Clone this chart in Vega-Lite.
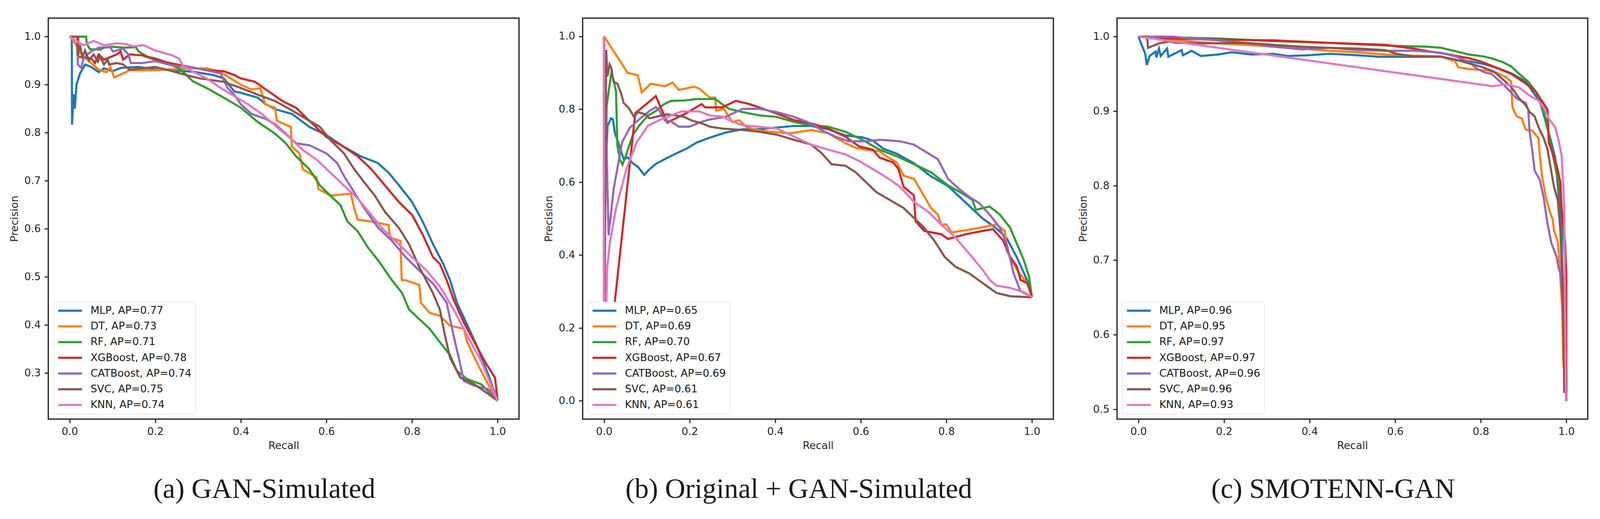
{
  "$schema": "https://vega.github.io/schema/vega-lite/v6.json",
  "padding": {"left": 22.6, "top": 44.3, "right": 35, "bottom": 38},
  "background": "white",
  "spacing": 60,
  "config": {
    "font": "DejaVu Sans",
    "view": {"stroke": "#262626", "strokeWidth": 3.25},
    "axis": {
      "labelFont": "DejaVu Sans", "labelFontSize": 26.6, "labelColor": "#262626",
      "titleFont": "DejaVu Sans", "titleFontSize": 26.6, "titleFontWeight": "normal", "titleColor": "#262626",
      "tickColor": "#262626", "tickWidth": 3, "tickSize": 9.8,
      "domain": false, "grid": false
    },
    "axisX": {"labelPadding": 9.8, "titlePadding": 8.9},
    "axisY": {"labelPadding": 9.8, "titlePadding": 9.8},
    "legend": {
      "orient": "bottom-left", "offset": 12.8, "title": null,
      "symbolType": "stroke", "symbolSize": 3721, "symbolStrokeWidth": 5.4, "clipHeight": 26.6,
      "labelFont": "DejaVu Sans", "labelFontSize": 26.6, "labelColor": "#1a1a1a", "labelOffset": 18.7, "labelLimit": 1000,
      "strokeColor": "#d6d6d6", "fillColor": "white", "cornerRadius": 6,
      "padding": 9.35, "rowPadding": 13.2
    },
    "title": {
      "orient": "bottom", "anchor": "middle", "frame": "bounds",
      "font": "Liberation Serif", "fontSize": 71.8, "fontWeight": "normal", "color": "#1a1a1a", "offset": 63
    },
    "line": {"strokeWidth": 5.4}
  },
  "datasets": {
    "a": [
      {"model": "MLP, AP=0.77", "recall": 0, "precision": 1.0},
      {"model": "MLP, AP=0.77", "recall": 0.005, "precision": 1.0},
      {"model": "MLP, AP=0.77", "recall": 0.0055, "precision": 0.817},
      {"model": "MLP, AP=0.77", "recall": 0.009, "precision": 0.88},
      {"model": "MLP, AP=0.77", "recall": 0.012, "precision": 0.85},
      {"model": "MLP, AP=0.77", "recall": 0.016, "precision": 0.9},
      {"model": "MLP, AP=0.77", "recall": 0.024, "precision": 0.923},
      {"model": "MLP, AP=0.77", "recall": 0.036, "precision": 0.942},
      {"model": "MLP, AP=0.77", "recall": 0.05, "precision": 0.937},
      {"model": "MLP, AP=0.77", "recall": 0.068, "precision": 0.926},
      {"model": "MLP, AP=0.77", "recall": 0.08, "precision": 0.934},
      {"model": "MLP, AP=0.77", "recall": 0.1, "precision": 0.928},
      {"model": "MLP, AP=0.77", "recall": 0.12, "precision": 0.935},
      {"model": "MLP, AP=0.77", "recall": 0.16, "precision": 0.937},
      {"model": "MLP, AP=0.77", "recall": 0.2, "precision": 0.932},
      {"model": "MLP, AP=0.77", "recall": 0.24, "precision": 0.93},
      {"model": "MLP, AP=0.77", "recall": 0.288, "precision": 0.927},
      {"model": "MLP, AP=0.77", "recall": 0.336, "precision": 0.92},
      {"model": "MLP, AP=0.77", "recall": 0.36, "precision": 0.913},
      {"model": "MLP, AP=0.77", "recall": 0.385, "precision": 0.886},
      {"model": "MLP, AP=0.77", "recall": 0.4, "precision": 0.883},
      {"model": "MLP, AP=0.77", "recall": 0.44, "precision": 0.873},
      {"model": "MLP, AP=0.77", "recall": 0.457, "precision": 0.86},
      {"model": "MLP, AP=0.77", "recall": 0.48, "precision": 0.849},
      {"model": "MLP, AP=0.77", "recall": 0.52, "precision": 0.839},
      {"model": "MLP, AP=0.77", "recall": 0.56, "precision": 0.812},
      {"model": "MLP, AP=0.77", "recall": 0.6, "precision": 0.795},
      {"model": "MLP, AP=0.77", "recall": 0.64, "precision": 0.771},
      {"model": "MLP, AP=0.77", "recall": 0.68, "precision": 0.751},
      {"model": "MLP, AP=0.77", "recall": 0.72, "precision": 0.737},
      {"model": "MLP, AP=0.77", "recall": 0.745, "precision": 0.717},
      {"model": "MLP, AP=0.77", "recall": 0.77, "precision": 0.69},
      {"model": "MLP, AP=0.77", "recall": 0.8, "precision": 0.656},
      {"model": "MLP, AP=0.77", "recall": 0.825, "precision": 0.615},
      {"model": "MLP, AP=0.77", "recall": 0.849, "precision": 0.568},
      {"model": "MLP, AP=0.77", "recall": 0.873, "precision": 0.527},
      {"model": "MLP, AP=0.77", "recall": 0.889, "precision": 0.493},
      {"model": "MLP, AP=0.77", "recall": 0.905, "precision": 0.446},
      {"model": "MLP, AP=0.77", "recall": 0.93, "precision": 0.398},
      {"model": "MLP, AP=0.77", "recall": 0.954, "precision": 0.351},
      {"model": "MLP, AP=0.77", "recall": 0.978, "precision": 0.297},
      {"model": "MLP, AP=0.77", "recall": 1.0, "precision": 0.242},

      {"model": "DT, AP=0.73", "recall": 0, "precision": 1.0},
      {"model": "DT, AP=0.73", "recall": 0.012, "precision": 0.987},
      {"model": "DT, AP=0.73", "recall": 0.027, "precision": 0.963},
      {"model": "DT, AP=0.73", "recall": 0.05, "precision": 0.945},
      {"model": "DT, AP=0.73", "recall": 0.068, "precision": 0.931},
      {"model": "DT, AP=0.73", "recall": 0.086, "precision": 0.926},
      {"model": "DT, AP=0.73", "recall": 0.095, "precision": 0.937},
      {"model": "DT, AP=0.73", "recall": 0.104, "precision": 0.915},
      {"model": "DT, AP=0.73", "recall": 0.14, "precision": 0.93},
      {"model": "DT, AP=0.73", "recall": 0.2, "precision": 0.93},
      {"model": "DT, AP=0.73", "recall": 0.24, "precision": 0.932},
      {"model": "DT, AP=0.73", "recall": 0.28, "precision": 0.934},
      {"model": "DT, AP=0.73", "recall": 0.32, "precision": 0.934},
      {"model": "DT, AP=0.73", "recall": 0.352, "precision": 0.927},
      {"model": "DT, AP=0.73", "recall": 0.376, "precision": 0.913},
      {"model": "DT, AP=0.73", "recall": 0.4, "precision": 0.9},
      {"model": "DT, AP=0.73", "recall": 0.425, "precision": 0.89},
      {"model": "DT, AP=0.73", "recall": 0.445, "precision": 0.893},
      {"model": "DT, AP=0.73", "recall": 0.457, "precision": 0.859},
      {"model": "DT, AP=0.73", "recall": 0.48, "precision": 0.852},
      {"model": "DT, AP=0.73", "recall": 0.484, "precision": 0.825},
      {"model": "DT, AP=0.73", "recall": 0.517, "precision": 0.812},
      {"model": "DT, AP=0.73", "recall": 0.519, "precision": 0.771},
      {"model": "DT, AP=0.73", "recall": 0.537, "precision": 0.757},
      {"model": "DT, AP=0.73", "recall": 0.545, "precision": 0.724},
      {"model": "DT, AP=0.73", "recall": 0.577, "precision": 0.707},
      {"model": "DT, AP=0.73", "recall": 0.581, "precision": 0.683},
      {"model": "DT, AP=0.73", "recall": 0.609, "precision": 0.669},
      {"model": "DT, AP=0.73", "recall": 0.657, "precision": 0.673},
      {"model": "DT, AP=0.73", "recall": 0.665, "precision": 0.642},
      {"model": "DT, AP=0.73", "recall": 0.673, "precision": 0.619},
      {"model": "DT, AP=0.73", "recall": 0.705, "precision": 0.615},
      {"model": "DT, AP=0.73", "recall": 0.745, "precision": 0.608},
      {"model": "DT, AP=0.73", "recall": 0.749, "precision": 0.581},
      {"model": "DT, AP=0.73", "recall": 0.773, "precision": 0.575},
      {"model": "DT, AP=0.73", "recall": 0.776, "precision": 0.493},
      {"model": "DT, AP=0.73", "recall": 0.785, "precision": 0.493},
      {"model": "DT, AP=0.73", "recall": 0.817, "precision": 0.483},
      {"model": "DT, AP=0.73", "recall": 0.821, "precision": 0.446},
      {"model": "DT, AP=0.73", "recall": 0.841, "precision": 0.425},
      {"model": "DT, AP=0.73", "recall": 0.865, "precision": 0.419},
      {"model": "DT, AP=0.73", "recall": 0.889, "precision": 0.398},
      {"model": "DT, AP=0.73", "recall": 0.921, "precision": 0.392},
      {"model": "DT, AP=0.73", "recall": 0.929, "precision": 0.364},
      {"model": "DT, AP=0.73", "recall": 0.954, "precision": 0.317},
      {"model": "DT, AP=0.73", "recall": 0.978, "precision": 0.276},
      {"model": "DT, AP=0.73", "recall": 1.0, "precision": 0.242},

      {"model": "RF, AP=0.71", "recall": 0, "precision": 1.0},
      {"model": "RF, AP=0.71", "recall": 0.0385, "precision": 1.0},
      {"model": "RF, AP=0.71", "recall": 0.04, "precision": 0.985},
      {"model": "RF, AP=0.71", "recall": 0.047, "precision": 0.974},
      {"model": "RF, AP=0.71", "recall": 0.072, "precision": 0.973},
      {"model": "RF, AP=0.71", "recall": 0.08, "precision": 0.977},
      {"model": "RF, AP=0.71", "recall": 0.098, "precision": 0.979},
      {"model": "RF, AP=0.71", "recall": 0.128, "precision": 0.977},
      {"model": "RF, AP=0.71", "recall": 0.155, "precision": 0.978},
      {"model": "RF, AP=0.71", "recall": 0.161, "precision": 0.969},
      {"model": "RF, AP=0.71", "recall": 0.182, "precision": 0.958},
      {"model": "RF, AP=0.71", "recall": 0.2, "precision": 0.955},
      {"model": "RF, AP=0.71", "recall": 0.216, "precision": 0.95},
      {"model": "RF, AP=0.71", "recall": 0.256, "precision": 0.934},
      {"model": "RF, AP=0.71", "recall": 0.288, "precision": 0.907},
      {"model": "RF, AP=0.71", "recall": 0.32, "precision": 0.893},
      {"model": "RF, AP=0.71", "recall": 0.36, "precision": 0.873},
      {"model": "RF, AP=0.71", "recall": 0.4, "precision": 0.852},
      {"model": "RF, AP=0.71", "recall": 0.44, "precision": 0.822},
      {"model": "RF, AP=0.71", "recall": 0.48, "precision": 0.798},
      {"model": "RF, AP=0.71", "recall": 0.505, "precision": 0.778},
      {"model": "RF, AP=0.71", "recall": 0.529, "precision": 0.751},
      {"model": "RF, AP=0.71", "recall": 0.56, "precision": 0.724},
      {"model": "RF, AP=0.71", "recall": 0.585, "precision": 0.69},
      {"model": "RF, AP=0.71", "recall": 0.609, "precision": 0.669},
      {"model": "RF, AP=0.71", "recall": 0.633, "precision": 0.649},
      {"model": "RF, AP=0.71", "recall": 0.649, "precision": 0.615},
      {"model": "RF, AP=0.71", "recall": 0.673, "precision": 0.595},
      {"model": "RF, AP=0.71", "recall": 0.697, "precision": 0.561},
      {"model": "RF, AP=0.71", "recall": 0.721, "precision": 0.534},
      {"model": "RF, AP=0.71", "recall": 0.753, "precision": 0.493},
      {"model": "RF, AP=0.71", "recall": 0.777, "precision": 0.466},
      {"model": "RF, AP=0.71", "recall": 0.793, "precision": 0.432},
      {"model": "RF, AP=0.71", "recall": 0.817, "precision": 0.412},
      {"model": "RF, AP=0.71", "recall": 0.841, "precision": 0.392},
      {"model": "RF, AP=0.71", "recall": 0.865, "precision": 0.364},
      {"model": "RF, AP=0.71", "recall": 0.889, "precision": 0.337},
      {"model": "RF, AP=0.71", "recall": 0.905, "precision": 0.304},
      {"model": "RF, AP=0.71", "recall": 0.929, "precision": 0.287},
      {"model": "RF, AP=0.71", "recall": 0.962, "precision": 0.276},
      {"model": "RF, AP=0.71", "recall": 1.0, "precision": 0.242},

      {"model": "XGBoost, AP=0.78", "recall": 0, "precision": 1.0},
      {"model": "XGBoost, AP=0.78", "recall": 0.02, "precision": 1.0},
      {"model": "XGBoost, AP=0.78", "recall": 0.02, "precision": 0.958},
      {"model": "XGBoost, AP=0.78", "recall": 0.05, "precision": 0.955},
      {"model": "XGBoost, AP=0.78", "recall": 0.059, "precision": 0.945},
      {"model": "XGBoost, AP=0.78", "recall": 0.068, "precision": 0.963},
      {"model": "XGBoost, AP=0.78", "recall": 0.08, "precision": 0.952},
      {"model": "XGBoost, AP=0.78", "recall": 0.11, "precision": 0.963},
      {"model": "XGBoost, AP=0.78", "recall": 0.119, "precision": 0.969},
      {"model": "XGBoost, AP=0.78", "recall": 0.125, "precision": 0.952},
      {"model": "XGBoost, AP=0.78", "recall": 0.14, "precision": 0.963},
      {"model": "XGBoost, AP=0.78", "recall": 0.17, "precision": 0.961},
      {"model": "XGBoost, AP=0.78", "recall": 0.2, "precision": 0.952},
      {"model": "XGBoost, AP=0.78", "recall": 0.24, "precision": 0.944},
      {"model": "XGBoost, AP=0.78", "recall": 0.28, "precision": 0.937},
      {"model": "XGBoost, AP=0.78", "recall": 0.32, "precision": 0.93},
      {"model": "XGBoost, AP=0.78", "recall": 0.36, "precision": 0.928},
      {"model": "XGBoost, AP=0.78", "recall": 0.385, "precision": 0.92},
      {"model": "XGBoost, AP=0.78", "recall": 0.4, "precision": 0.913},
      {"model": "XGBoost, AP=0.78", "recall": 0.433, "precision": 0.906},
      {"model": "XGBoost, AP=0.78", "recall": 0.465, "precision": 0.886},
      {"model": "XGBoost, AP=0.78", "recall": 0.497, "precision": 0.866},
      {"model": "XGBoost, AP=0.78", "recall": 0.529, "precision": 0.852},
      {"model": "XGBoost, AP=0.78", "recall": 0.56, "precision": 0.825},
      {"model": "XGBoost, AP=0.78", "recall": 0.6, "precision": 0.791},
      {"model": "XGBoost, AP=0.78", "recall": 0.64, "precision": 0.771},
      {"model": "XGBoost, AP=0.78", "recall": 0.673, "precision": 0.751},
      {"model": "XGBoost, AP=0.78", "recall": 0.705, "precision": 0.724},
      {"model": "XGBoost, AP=0.78", "recall": 0.737, "precision": 0.69},
      {"model": "XGBoost, AP=0.78", "recall": 0.769, "precision": 0.656},
      {"model": "XGBoost, AP=0.78", "recall": 0.8, "precision": 0.629},
      {"model": "XGBoost, AP=0.78", "recall": 0.825, "precision": 0.588},
      {"model": "XGBoost, AP=0.78", "recall": 0.849, "precision": 0.541},
      {"model": "XGBoost, AP=0.78", "recall": 0.865, "precision": 0.527},
      {"model": "XGBoost, AP=0.78", "recall": 0.881, "precision": 0.493},
      {"model": "XGBoost, AP=0.78", "recall": 0.897, "precision": 0.453},
      {"model": "XGBoost, AP=0.78", "recall": 0.921, "precision": 0.405},
      {"model": "XGBoost, AP=0.78", "recall": 0.946, "precision": 0.364},
      {"model": "XGBoost, AP=0.78", "recall": 0.97, "precision": 0.324},
      {"model": "XGBoost, AP=0.78", "recall": 0.994, "precision": 0.29},
      {"model": "XGBoost, AP=0.78", "recall": 1.0, "precision": 0.243},

      {"model": "CATBoost, AP=0.74", "recall": 0, "precision": 1.0},
      {"model": "CATBoost, AP=0.74", "recall": 0.018, "precision": 1.0},
      {"model": "CATBoost, AP=0.74", "recall": 0.019, "precision": 0.942},
      {"model": "CATBoost, AP=0.74", "recall": 0.027, "precision": 0.935},
      {"model": "CATBoost, AP=0.74", "recall": 0.032, "precision": 0.953},
      {"model": "CATBoost, AP=0.74", "recall": 0.039, "precision": 0.961},
      {"model": "CATBoost, AP=0.74", "recall": 0.05, "precision": 0.969},
      {"model": "CATBoost, AP=0.74", "recall": 0.068, "precision": 0.977},
      {"model": "CATBoost, AP=0.74", "recall": 0.095, "precision": 0.978},
      {"model": "CATBoost, AP=0.74", "recall": 0.101, "precision": 0.969},
      {"model": "CATBoost, AP=0.74", "recall": 0.125, "precision": 0.975},
      {"model": "CATBoost, AP=0.74", "recall": 0.137, "precision": 0.963},
      {"model": "CATBoost, AP=0.74", "recall": 0.143, "precision": 0.945},
      {"model": "CATBoost, AP=0.74", "recall": 0.17, "precision": 0.945},
      {"model": "CATBoost, AP=0.74", "recall": 0.2, "precision": 0.949},
      {"model": "CATBoost, AP=0.74", "recall": 0.24, "precision": 0.94},
      {"model": "CATBoost, AP=0.74", "recall": 0.28, "precision": 0.937},
      {"model": "CATBoost, AP=0.74", "recall": 0.32, "precision": 0.93},
      {"model": "CATBoost, AP=0.74", "recall": 0.353, "precision": 0.923},
      {"model": "CATBoost, AP=0.74", "recall": 0.369, "precision": 0.893},
      {"model": "CATBoost, AP=0.74", "recall": 0.385, "precision": 0.879},
      {"model": "CATBoost, AP=0.74", "recall": 0.4, "precision": 0.859},
      {"model": "CATBoost, AP=0.74", "recall": 0.425, "precision": 0.839},
      {"model": "CATBoost, AP=0.74", "recall": 0.457, "precision": 0.829},
      {"model": "CATBoost, AP=0.74", "recall": 0.48, "precision": 0.818},
      {"model": "CATBoost, AP=0.74", "recall": 0.505, "precision": 0.798},
      {"model": "CATBoost, AP=0.74", "recall": 0.529, "precision": 0.778},
      {"model": "CATBoost, AP=0.74", "recall": 0.56, "precision": 0.774},
      {"model": "CATBoost, AP=0.74", "recall": 0.6, "precision": 0.757},
      {"model": "CATBoost, AP=0.74", "recall": 0.625, "precision": 0.737},
      {"model": "CATBoost, AP=0.74", "recall": 0.641, "precision": 0.71},
      {"model": "CATBoost, AP=0.74", "recall": 0.665, "precision": 0.676},
      {"model": "CATBoost, AP=0.74", "recall": 0.689, "precision": 0.642},
      {"model": "CATBoost, AP=0.74", "recall": 0.721, "precision": 0.602},
      {"model": "CATBoost, AP=0.74", "recall": 0.753, "precision": 0.575},
      {"model": "CATBoost, AP=0.74", "recall": 0.785, "precision": 0.541},
      {"model": "CATBoost, AP=0.74", "recall": 0.817, "precision": 0.513},
      {"model": "CATBoost, AP=0.74", "recall": 0.849, "precision": 0.486},
      {"model": "CATBoost, AP=0.74", "recall": 0.881, "precision": 0.446},
      {"model": "CATBoost, AP=0.74", "recall": 0.897, "precision": 0.378},
      {"model": "CATBoost, AP=0.74", "recall": 0.913, "precision": 0.317},
      {"model": "CATBoost, AP=0.74", "recall": 0.921, "precision": 0.283},
      {"model": "CATBoost, AP=0.74", "recall": 0.946, "precision": 0.273},
      {"model": "CATBoost, AP=0.74", "recall": 0.978, "precision": 0.266},
      {"model": "CATBoost, AP=0.74", "recall": 1.0, "precision": 0.242},

      {"model": "SVC, AP=0.75", "recall": 0, "precision": 1.0},
      {"model": "SVC, AP=0.75", "recall": 0.018, "precision": 1.0},
      {"model": "SVC, AP=0.75", "recall": 0.018, "precision": 0.961},
      {"model": "SVC, AP=0.75", "recall": 0.024, "precision": 0.982},
      {"model": "SVC, AP=0.75", "recall": 0.03, "precision": 0.958},
      {"model": "SVC, AP=0.75", "recall": 0.036, "precision": 0.971},
      {"model": "SVC, AP=0.75", "recall": 0.045, "precision": 0.95},
      {"model": "SVC, AP=0.75", "recall": 0.056, "precision": 0.963},
      {"model": "SVC, AP=0.75", "recall": 0.066, "precision": 0.948},
      {"model": "SVC, AP=0.75", "recall": 0.071, "precision": 0.958},
      {"model": "SVC, AP=0.75", "recall": 0.08, "precision": 0.942},
      {"model": "SVC, AP=0.75", "recall": 0.089, "precision": 0.952},
      {"model": "SVC, AP=0.75", "recall": 0.092, "precision": 0.942},
      {"model": "SVC, AP=0.75", "recall": 0.11, "precision": 0.945},
      {"model": "SVC, AP=0.75", "recall": 0.125, "precision": 0.942},
      {"model": "SVC, AP=0.75", "recall": 0.14, "precision": 0.931},
      {"model": "SVC, AP=0.75", "recall": 0.17, "precision": 0.934},
      {"model": "SVC, AP=0.75", "recall": 0.2, "precision": 0.937},
      {"model": "SVC, AP=0.75", "recall": 0.24, "precision": 0.928},
      {"model": "SVC, AP=0.75", "recall": 0.272, "precision": 0.92},
      {"model": "SVC, AP=0.75", "recall": 0.304, "precision": 0.913},
      {"model": "SVC, AP=0.75", "recall": 0.36, "precision": 0.906},
      {"model": "SVC, AP=0.75", "recall": 0.4, "precision": 0.893},
      {"model": "SVC, AP=0.75", "recall": 0.44, "precision": 0.879},
      {"model": "SVC, AP=0.75", "recall": 0.48, "precision": 0.866},
      {"model": "SVC, AP=0.75", "recall": 0.52, "precision": 0.846},
      {"model": "SVC, AP=0.75", "recall": 0.56, "precision": 0.825},
      {"model": "SVC, AP=0.75", "recall": 0.585, "precision": 0.812},
      {"model": "SVC, AP=0.75", "recall": 0.609, "precision": 0.785},
      {"model": "SVC, AP=0.75", "recall": 0.641, "precision": 0.757},
      {"model": "SVC, AP=0.75", "recall": 0.665, "precision": 0.724},
      {"model": "SVC, AP=0.75", "recall": 0.689, "precision": 0.696},
      {"model": "SVC, AP=0.75", "recall": 0.713, "precision": 0.669},
      {"model": "SVC, AP=0.75", "recall": 0.737, "precision": 0.635},
      {"model": "SVC, AP=0.75", "recall": 0.769, "precision": 0.602},
      {"model": "SVC, AP=0.75", "recall": 0.793, "precision": 0.568},
      {"model": "SVC, AP=0.75", "recall": 0.817, "precision": 0.52},
      {"model": "SVC, AP=0.75", "recall": 0.849, "precision": 0.466},
      {"model": "SVC, AP=0.75", "recall": 0.865, "precision": 0.432},
      {"model": "SVC, AP=0.75", "recall": 0.877, "precision": 0.378},
      {"model": "SVC, AP=0.75", "recall": 0.889, "precision": 0.331},
      {"model": "SVC, AP=0.75", "recall": 0.913, "precision": 0.29},
      {"model": "SVC, AP=0.75", "recall": 0.946, "precision": 0.276},
      {"model": "SVC, AP=0.75", "recall": 0.978, "precision": 0.256},
      {"model": "SVC, AP=0.75", "recall": 1.0, "precision": 0.242},

      {"model": "KNN, AP=0.74", "recall": 0, "precision": 1.0},
      {"model": "KNN, AP=0.74", "recall": 0.032, "precision": 0.982},
      {"model": "KNN, AP=0.74", "recall": 0.056, "precision": 0.991},
      {"model": "KNN, AP=0.74", "recall": 0.08, "precision": 0.982},
      {"model": "KNN, AP=0.74", "recall": 0.11, "precision": 0.986},
      {"model": "KNN, AP=0.74", "recall": 0.128, "precision": 0.985},
      {"model": "KNN, AP=0.74", "recall": 0.149, "precision": 0.98},
      {"model": "KNN, AP=0.74", "recall": 0.173, "precision": 0.982},
      {"model": "KNN, AP=0.74", "recall": 0.2, "precision": 0.971},
      {"model": "KNN, AP=0.74", "recall": 0.24, "precision": 0.961},
      {"model": "KNN, AP=0.74", "recall": 0.256, "precision": 0.954},
      {"model": "KNN, AP=0.74", "recall": 0.264, "precision": 0.94},
      {"model": "KNN, AP=0.74", "recall": 0.288, "precision": 0.927},
      {"model": "KNN, AP=0.74", "recall": 0.32, "precision": 0.913},
      {"model": "KNN, AP=0.74", "recall": 0.353, "precision": 0.893},
      {"model": "KNN, AP=0.74", "recall": 0.385, "precision": 0.876},
      {"model": "KNN, AP=0.74", "recall": 0.417, "precision": 0.859},
      {"model": "KNN, AP=0.74", "recall": 0.449, "precision": 0.839},
      {"model": "KNN, AP=0.74", "recall": 0.48, "precision": 0.815},
      {"model": "KNN, AP=0.74", "recall": 0.52, "precision": 0.785},
      {"model": "KNN, AP=0.74", "recall": 0.545, "precision": 0.764},
      {"model": "KNN, AP=0.74", "recall": 0.577, "precision": 0.744},
      {"model": "KNN, AP=0.74", "recall": 0.609, "precision": 0.717},
      {"model": "KNN, AP=0.74", "recall": 0.641, "precision": 0.69},
      {"model": "KNN, AP=0.74", "recall": 0.673, "precision": 0.663},
      {"model": "KNN, AP=0.74", "recall": 0.705, "precision": 0.629},
      {"model": "KNN, AP=0.74", "recall": 0.729, "precision": 0.602},
      {"model": "KNN, AP=0.74", "recall": 0.769, "precision": 0.568},
      {"model": "KNN, AP=0.74", "recall": 0.8, "precision": 0.541},
      {"model": "KNN, AP=0.74", "recall": 0.833, "precision": 0.514},
      {"model": "KNN, AP=0.74", "recall": 0.865, "precision": 0.48},
      {"model": "KNN, AP=0.74", "recall": 0.897, "precision": 0.432},
      {"model": "KNN, AP=0.74", "recall": 0.929, "precision": 0.378},
      {"model": "KNN, AP=0.74", "recall": 0.962, "precision": 0.324},
      {"model": "KNN, AP=0.74", "recall": 1.0, "precision": 0.242}
    ],
    "b": [
      {"model": "MLP, AP=0.65", "recall": 0, "precision": 1.0},
      {"model": "MLP, AP=0.65", "recall": 0.004, "precision": 0.63},
      {"model": "MLP, AP=0.65", "recall": 0.008, "precision": 0.755},
      {"model": "MLP, AP=0.65", "recall": 0.0165, "precision": 0.775},
      {"model": "MLP, AP=0.65", "recall": 0.021, "precision": 0.772},
      {"model": "MLP, AP=0.65", "recall": 0.025, "precision": 0.736},
      {"model": "MLP, AP=0.65", "recall": 0.037, "precision": 0.696},
      {"model": "MLP, AP=0.65", "recall": 0.046, "precision": 0.662},
      {"model": "MLP, AP=0.65", "recall": 0.055, "precision": 0.668},
      {"model": "MLP, AP=0.65", "recall": 0.067, "precision": 0.652},
      {"model": "MLP, AP=0.65", "recall": 0.079, "precision": 0.642},
      {"model": "MLP, AP=0.65", "recall": 0.094, "precision": 0.62},
      {"model": "MLP, AP=0.65", "recall": 0.106, "precision": 0.635},
      {"model": "MLP, AP=0.65", "recall": 0.121, "precision": 0.65},
      {"model": "MLP, AP=0.65", "recall": 0.145, "precision": 0.665},
      {"model": "MLP, AP=0.65", "recall": 0.169, "precision": 0.679},
      {"model": "MLP, AP=0.65", "recall": 0.193, "precision": 0.692},
      {"model": "MLP, AP=0.65", "recall": 0.217, "precision": 0.709},
      {"model": "MLP, AP=0.65", "recall": 0.247, "precision": 0.722},
      {"model": "MLP, AP=0.65", "recall": 0.284, "precision": 0.736},
      {"model": "MLP, AP=0.65", "recall": 0.324, "precision": 0.745},
      {"model": "MLP, AP=0.65", "recall": 0.364, "precision": 0.745},
      {"model": "MLP, AP=0.65", "recall": 0.404, "precision": 0.75},
      {"model": "MLP, AP=0.65", "recall": 0.444, "precision": 0.754},
      {"model": "MLP, AP=0.65", "recall": 0.484, "precision": 0.754},
      {"model": "MLP, AP=0.65", "recall": 0.524, "precision": 0.745},
      {"model": "MLP, AP=0.65", "recall": 0.564, "precision": 0.728},
      {"model": "MLP, AP=0.65", "recall": 0.604, "precision": 0.723},
      {"model": "MLP, AP=0.65", "recall": 0.628, "precision": 0.714},
      {"model": "MLP, AP=0.65", "recall": 0.652, "precision": 0.692},
      {"model": "MLP, AP=0.65", "recall": 0.684, "precision": 0.678},
      {"model": "MLP, AP=0.65", "recall": 0.724, "precision": 0.652},
      {"model": "MLP, AP=0.65", "recall": 0.764, "precision": 0.616},
      {"model": "MLP, AP=0.65", "recall": 0.804, "precision": 0.589},
      {"model": "MLP, AP=0.65", "recall": 0.845, "precision": 0.544},
      {"model": "MLP, AP=0.65", "recall": 0.885, "precision": 0.5},
      {"model": "MLP, AP=0.65", "recall": 0.917, "precision": 0.473},
      {"model": "MLP, AP=0.65", "recall": 0.941, "precision": 0.446},
      {"model": "MLP, AP=0.65", "recall": 0.965, "precision": 0.393},
      {"model": "MLP, AP=0.65", "recall": 0.989, "precision": 0.33},
      {"model": "MLP, AP=0.65", "recall": 1.0, "precision": 0.285},

      {"model": "DT, AP=0.69", "recall": 0, "precision": 1.0},
      {"model": "DT, AP=0.69", "recall": 0.055, "precision": 0.9},
      {"model": "DT, AP=0.69", "recall": 0.079, "precision": 0.893},
      {"model": "DT, AP=0.69", "recall": 0.088, "precision": 0.846},
      {"model": "DT, AP=0.69", "recall": 0.109, "precision": 0.87},
      {"model": "DT, AP=0.69", "recall": 0.142, "precision": 0.863},
      {"model": "DT, AP=0.69", "recall": 0.16, "precision": 0.873},
      {"model": "DT, AP=0.69", "recall": 0.175, "precision": 0.853},
      {"model": "DT, AP=0.69", "recall": 0.211, "precision": 0.862},
      {"model": "DT, AP=0.69", "recall": 0.223, "precision": 0.856},
      {"model": "DT, AP=0.69", "recall": 0.247, "precision": 0.832},
      {"model": "DT, AP=0.69", "recall": 0.26, "precision": 0.832},
      {"model": "DT, AP=0.69", "recall": 0.262, "precision": 0.796},
      {"model": "DT, AP=0.69", "recall": 0.28, "precision": 0.801},
      {"model": "DT, AP=0.69", "recall": 0.3, "precision": 0.765},
      {"model": "DT, AP=0.69", "recall": 0.316, "precision": 0.77},
      {"model": "DT, AP=0.69", "recall": 0.332, "precision": 0.752},
      {"model": "DT, AP=0.69", "recall": 0.356, "precision": 0.743},
      {"model": "DT, AP=0.69", "recall": 0.388, "precision": 0.738},
      {"model": "DT, AP=0.69", "recall": 0.436, "precision": 0.734},
      {"model": "DT, AP=0.69", "recall": 0.484, "precision": 0.743},
      {"model": "DT, AP=0.69", "recall": 0.524, "precision": 0.734},
      {"model": "DT, AP=0.69", "recall": 0.564, "precision": 0.707},
      {"model": "DT, AP=0.69", "recall": 0.588, "precision": 0.694},
      {"model": "DT, AP=0.69", "recall": 0.612, "precision": 0.689},
      {"model": "DT, AP=0.69", "recall": 0.644, "precision": 0.685},
      {"model": "DT, AP=0.69", "recall": 0.66, "precision": 0.671},
      {"model": "DT, AP=0.69", "recall": 0.684, "precision": 0.654},
      {"model": "DT, AP=0.69", "recall": 0.7, "precision": 0.618},
      {"model": "DT, AP=0.69", "recall": 0.724, "precision": 0.609},
      {"model": "DT, AP=0.69", "recall": 0.74, "precision": 0.578},
      {"model": "DT, AP=0.69", "recall": 0.764, "precision": 0.529},
      {"model": "DT, AP=0.69", "recall": 0.78, "precision": 0.511},
      {"model": "DT, AP=0.69", "recall": 0.788, "precision": 0.484},
      {"model": "DT, AP=0.69", "recall": 0.8, "precision": 0.484},
      {"model": "DT, AP=0.69", "recall": 0.812, "precision": 0.462},
      {"model": "DT, AP=0.69", "recall": 0.861, "precision": 0.471},
      {"model": "DT, AP=0.69", "recall": 0.917, "precision": 0.484},
      {"model": "DT, AP=0.69", "recall": 0.937, "precision": 0.466},
      {"model": "DT, AP=0.69", "recall": 0.941, "precision": 0.413},
      {"model": "DT, AP=0.69", "recall": 0.965, "precision": 0.359},
      {"model": "DT, AP=0.69", "recall": 0.989, "precision": 0.323},
      {"model": "DT, AP=0.69", "recall": 1.0, "precision": 0.285},

      {"model": "RF, AP=0.70", "recall": 0, "precision": 1.0},
      {"model": "RF, AP=0.70", "recall": 0.004, "precision": 0.615},
      {"model": "RF, AP=0.70", "recall": 0.006, "precision": 0.809},
      {"model": "RF, AP=0.70", "recall": 0.0165, "precision": 0.896},
      {"model": "RF, AP=0.70", "recall": 0.022, "precision": 0.882},
      {"model": "RF, AP=0.70", "recall": 0.028, "precision": 0.849},
      {"model": "RF, AP=0.70", "recall": 0.031, "precision": 0.702},
      {"model": "RF, AP=0.70", "recall": 0.037, "precision": 0.662},
      {"model": "RF, AP=0.70", "recall": 0.043, "precision": 0.648},
      {"model": "RF, AP=0.70", "recall": 0.052, "precision": 0.676},
      {"model": "RF, AP=0.70", "recall": 0.067, "precision": 0.729},
      {"model": "RF, AP=0.70", "recall": 0.082, "precision": 0.755},
      {"model": "RF, AP=0.70", "recall": 0.103, "precision": 0.783},
      {"model": "RF, AP=0.70", "recall": 0.121, "precision": 0.795},
      {"model": "RF, AP=0.70", "recall": 0.139, "precision": 0.813},
      {"model": "RF, AP=0.70", "recall": 0.157, "precision": 0.823},
      {"model": "RF, AP=0.70", "recall": 0.187, "precision": 0.824},
      {"model": "RF, AP=0.70", "recall": 0.217, "precision": 0.828},
      {"model": "RF, AP=0.70", "recall": 0.26, "precision": 0.828},
      {"model": "RF, AP=0.70", "recall": 0.276, "precision": 0.814},
      {"model": "RF, AP=0.70", "recall": 0.292, "precision": 0.801},
      {"model": "RF, AP=0.70", "recall": 0.324, "precision": 0.792},
      {"model": "RF, AP=0.70", "recall": 0.364, "precision": 0.783},
      {"model": "RF, AP=0.70", "recall": 0.404, "precision": 0.779},
      {"model": "RF, AP=0.70", "recall": 0.444, "precision": 0.765},
      {"model": "RF, AP=0.70", "recall": 0.484, "precision": 0.756},
      {"model": "RF, AP=0.70", "recall": 0.524, "precision": 0.752},
      {"model": "RF, AP=0.70", "recall": 0.564, "precision": 0.738},
      {"model": "RF, AP=0.70", "recall": 0.604, "precision": 0.716},
      {"model": "RF, AP=0.70", "recall": 0.644, "precision": 0.689},
      {"model": "RF, AP=0.70", "recall": 0.684, "precision": 0.671},
      {"model": "RF, AP=0.70", "recall": 0.708, "precision": 0.658},
      {"model": "RF, AP=0.70", "recall": 0.732, "precision": 0.645},
      {"model": "RF, AP=0.70", "recall": 0.764, "precision": 0.627},
      {"model": "RF, AP=0.70", "recall": 0.804, "precision": 0.591},
      {"model": "RF, AP=0.70", "recall": 0.837, "precision": 0.569},
      {"model": "RF, AP=0.70", "recall": 0.861, "precision": 0.551},
      {"model": "RF, AP=0.70", "recall": 0.869, "precision": 0.524},
      {"model": "RF, AP=0.70", "recall": 0.901, "precision": 0.533},
      {"model": "RF, AP=0.70", "recall": 0.925, "precision": 0.511},
      {"model": "RF, AP=0.70", "recall": 0.949, "precision": 0.475},
      {"model": "RF, AP=0.70", "recall": 0.965, "precision": 0.43},
      {"model": "RF, AP=0.70", "recall": 0.981, "precision": 0.386},
      {"model": "RF, AP=0.70", "recall": 0.993, "precision": 0.341},
      {"model": "RF, AP=0.70", "recall": 1.0, "precision": 0.285},

      {"model": "XGBoost, AP=0.67", "recall": 0, "precision": 1.0},
      {"model": "XGBoost, AP=0.67", "recall": 0, "precision": 0.0},
      {"model": "XGBoost, AP=0.67", "recall": 0.073, "precision": 0.789},
      {"model": "XGBoost, AP=0.67", "recall": 0.121, "precision": 0.836},
      {"model": "XGBoost, AP=0.67", "recall": 0.148, "precision": 0.763},
      {"model": "XGBoost, AP=0.67", "recall": 0.157, "precision": 0.769},
      {"model": "XGBoost, AP=0.67", "recall": 0.187, "precision": 0.786},
      {"model": "XGBoost, AP=0.67", "recall": 0.228, "precision": 0.814},
      {"model": "XGBoost, AP=0.67", "recall": 0.236, "precision": 0.805},
      {"model": "XGBoost, AP=0.67", "recall": 0.276, "precision": 0.805},
      {"model": "XGBoost, AP=0.67", "recall": 0.308, "precision": 0.823},
      {"model": "XGBoost, AP=0.67", "recall": 0.34, "precision": 0.814},
      {"model": "XGBoost, AP=0.67", "recall": 0.372, "precision": 0.801},
      {"model": "XGBoost, AP=0.67", "recall": 0.404, "precision": 0.788},
      {"model": "XGBoost, AP=0.67", "recall": 0.444, "precision": 0.77},
      {"model": "XGBoost, AP=0.67", "recall": 0.484, "precision": 0.761},
      {"model": "XGBoost, AP=0.67", "recall": 0.524, "precision": 0.747},
      {"model": "XGBoost, AP=0.67", "recall": 0.564, "precision": 0.725},
      {"model": "XGBoost, AP=0.67", "recall": 0.596, "precision": 0.698},
      {"model": "XGBoost, AP=0.67", "recall": 0.628, "precision": 0.689},
      {"model": "XGBoost, AP=0.67", "recall": 0.644, "precision": 0.667},
      {"model": "XGBoost, AP=0.67", "recall": 0.676, "precision": 0.654},
      {"model": "XGBoost, AP=0.67", "recall": 0.688, "precision": 0.636},
      {"model": "XGBoost, AP=0.67", "recall": 0.7, "precision": 0.587},
      {"model": "XGBoost, AP=0.67", "recall": 0.724, "precision": 0.564},
      {"model": "XGBoost, AP=0.67", "recall": 0.728, "precision": 0.493},
      {"model": "XGBoost, AP=0.67", "recall": 0.748, "precision": 0.466},
      {"model": "XGBoost, AP=0.67", "recall": 0.788, "precision": 0.457},
      {"model": "XGBoost, AP=0.67", "recall": 0.804, "precision": 0.444},
      {"model": "XGBoost, AP=0.67", "recall": 0.845, "precision": 0.457},
      {"model": "XGBoost, AP=0.67", "recall": 0.885, "precision": 0.466},
      {"model": "XGBoost, AP=0.67", "recall": 0.909, "precision": 0.471},
      {"model": "XGBoost, AP=0.67", "recall": 0.933, "precision": 0.439},
      {"model": "XGBoost, AP=0.67", "recall": 0.949, "precision": 0.395},
      {"model": "XGBoost, AP=0.67", "recall": 0.965, "precision": 0.368},
      {"model": "XGBoost, AP=0.67", "recall": 0.973, "precision": 0.332},
      {"model": "XGBoost, AP=0.67", "recall": 0.989, "precision": 0.323},
      {"model": "XGBoost, AP=0.67", "recall": 1.0, "precision": 0.285},

      {"model": "CATBoost, AP=0.69", "recall": 0, "precision": 1.0},
      {"model": "CATBoost, AP=0.69", "recall": 0.0105, "precision": 0.454},
      {"model": "CATBoost, AP=0.69", "recall": 0.0225, "precision": 0.581},
      {"model": "CATBoost, AP=0.69", "recall": 0.042, "precision": 0.709},
      {"model": "CATBoost, AP=0.69", "recall": 0.06, "precision": 0.749},
      {"model": "CATBoost, AP=0.69", "recall": 0.085, "precision": 0.775},
      {"model": "CATBoost, AP=0.69", "recall": 0.106, "precision": 0.795},
      {"model": "CATBoost, AP=0.69", "recall": 0.121, "precision": 0.806},
      {"model": "CATBoost, AP=0.69", "recall": 0.13, "precision": 0.795},
      {"model": "CATBoost, AP=0.69", "recall": 0.142, "precision": 0.769},
      {"model": "CATBoost, AP=0.69", "recall": 0.157, "precision": 0.766},
      {"model": "CATBoost, AP=0.69", "recall": 0.175, "precision": 0.752},
      {"model": "CATBoost, AP=0.69", "recall": 0.199, "precision": 0.752},
      {"model": "CATBoost, AP=0.69", "recall": 0.229, "precision": 0.766},
      {"model": "CATBoost, AP=0.69", "recall": 0.247, "precision": 0.772},
      {"model": "CATBoost, AP=0.69", "recall": 0.284, "precision": 0.779},
      {"model": "CATBoost, AP=0.69", "recall": 0.324, "precision": 0.801},
      {"model": "CATBoost, AP=0.69", "recall": 0.364, "precision": 0.801},
      {"model": "CATBoost, AP=0.69", "recall": 0.404, "precision": 0.792},
      {"model": "CATBoost, AP=0.69", "recall": 0.444, "precision": 0.779},
      {"model": "CATBoost, AP=0.69", "recall": 0.476, "precision": 0.765},
      {"model": "CATBoost, AP=0.69", "recall": 0.508, "precision": 0.743},
      {"model": "CATBoost, AP=0.69", "recall": 0.54, "precision": 0.725},
      {"model": "CATBoost, AP=0.69", "recall": 0.572, "precision": 0.712},
      {"model": "CATBoost, AP=0.69", "recall": 0.612, "precision": 0.712},
      {"model": "CATBoost, AP=0.69", "recall": 0.644, "precision": 0.716},
      {"model": "CATBoost, AP=0.69", "recall": 0.692, "precision": 0.712},
      {"model": "CATBoost, AP=0.69", "recall": 0.724, "precision": 0.703},
      {"model": "CATBoost, AP=0.69", "recall": 0.756, "precision": 0.68},
      {"model": "CATBoost, AP=0.69", "recall": 0.78, "precision": 0.663},
      {"model": "CATBoost, AP=0.69", "recall": 0.804, "precision": 0.609},
      {"model": "CATBoost, AP=0.69", "recall": 0.829, "precision": 0.582},
      {"model": "CATBoost, AP=0.69", "recall": 0.853, "precision": 0.56},
      {"model": "CATBoost, AP=0.69", "recall": 0.877, "precision": 0.542},
      {"model": "CATBoost, AP=0.69", "recall": 0.901, "precision": 0.511},
      {"model": "CATBoost, AP=0.69", "recall": 0.925, "precision": 0.475},
      {"model": "CATBoost, AP=0.69", "recall": 0.941, "precision": 0.43},
      {"model": "CATBoost, AP=0.69", "recall": 0.957, "precision": 0.35},
      {"model": "CATBoost, AP=0.69", "recall": 0.973, "precision": 0.301},
      {"model": "CATBoost, AP=0.69", "recall": 1.0, "precision": 0.285},

      {"model": "SVC, AP=0.61", "recall": 0, "precision": 1.0},
      {"model": "SVC, AP=0.61", "recall": 0, "precision": 0.0},
      {"model": "SVC, AP=0.61", "recall": 0.005, "precision": 0.963},
      {"model": "SVC, AP=0.61", "recall": 0.008, "precision": 0.89},
      {"model": "SVC, AP=0.61", "recall": 0.013, "precision": 0.923},
      {"model": "SVC, AP=0.61", "recall": 0.017, "precision": 0.913},
      {"model": "SVC, AP=0.61", "recall": 0.022, "precision": 0.876},
      {"model": "SVC, AP=0.61", "recall": 0.031, "precision": 0.87},
      {"model": "SVC, AP=0.61", "recall": 0.04, "precision": 0.843},
      {"model": "SVC, AP=0.61", "recall": 0.046, "precision": 0.817},
      {"model": "SVC, AP=0.61", "recall": 0.058, "precision": 0.803},
      {"model": "SVC, AP=0.61", "recall": 0.07, "precision": 0.779},
      {"model": "SVC, AP=0.61", "recall": 0.079, "precision": 0.792},
      {"model": "SVC, AP=0.61", "recall": 0.097, "precision": 0.786},
      {"model": "SVC, AP=0.61", "recall": 0.106, "precision": 0.775},
      {"model": "SVC, AP=0.61", "recall": 0.121, "precision": 0.779},
      {"model": "SVC, AP=0.61", "recall": 0.145, "precision": 0.786},
      {"model": "SVC, AP=0.61", "recall": 0.169, "precision": 0.783},
      {"model": "SVC, AP=0.61", "recall": 0.187, "precision": 0.779},
      {"model": "SVC, AP=0.61", "recall": 0.205, "precision": 0.769},
      {"model": "SVC, AP=0.61", "recall": 0.229, "precision": 0.761},
      {"model": "SVC, AP=0.61", "recall": 0.247, "precision": 0.752},
      {"model": "SVC, AP=0.61", "recall": 0.276, "precision": 0.747},
      {"model": "SVC, AP=0.61", "recall": 0.324, "precision": 0.743},
      {"model": "SVC, AP=0.61", "recall": 0.364, "precision": 0.738},
      {"model": "SVC, AP=0.61", "recall": 0.404, "precision": 0.73},
      {"model": "SVC, AP=0.61", "recall": 0.444, "precision": 0.716},
      {"model": "SVC, AP=0.61", "recall": 0.484, "precision": 0.703},
      {"model": "SVC, AP=0.61", "recall": 0.508, "precision": 0.68},
      {"model": "SVC, AP=0.61", "recall": 0.532, "precision": 0.649},
      {"model": "SVC, AP=0.61", "recall": 0.564, "precision": 0.645},
      {"model": "SVC, AP=0.61", "recall": 0.588, "precision": 0.627},
      {"model": "SVC, AP=0.61", "recall": 0.612, "precision": 0.6},
      {"model": "SVC, AP=0.61", "recall": 0.636, "precision": 0.573},
      {"model": "SVC, AP=0.61", "recall": 0.668, "precision": 0.551},
      {"model": "SVC, AP=0.61", "recall": 0.7, "precision": 0.529},
      {"model": "SVC, AP=0.61", "recall": 0.724, "precision": 0.502},
      {"model": "SVC, AP=0.61", "recall": 0.748, "precision": 0.475},
      {"model": "SVC, AP=0.61", "recall": 0.772, "precision": 0.439},
      {"model": "SVC, AP=0.61", "recall": 0.796, "precision": 0.395},
      {"model": "SVC, AP=0.61", "recall": 0.821, "precision": 0.368},
      {"model": "SVC, AP=0.61", "recall": 0.853, "precision": 0.35},
      {"model": "SVC, AP=0.61", "recall": 0.885, "precision": 0.323},
      {"model": "SVC, AP=0.61", "recall": 0.917, "precision": 0.296},
      {"model": "SVC, AP=0.61", "recall": 0.949, "precision": 0.287},
      {"model": "SVC, AP=0.61", "recall": 1.0, "precision": 0.284},

      {"model": "KNN, AP=0.61", "recall": 0, "precision": 1.0},
      {"model": "KNN, AP=0.61", "recall": 0, "precision": 0.0},
      {"model": "KNN, AP=0.61", "recall": 0.004, "precision": 0.2},
      {"model": "KNN, AP=0.61", "recall": 0.0075, "precision": 0.367},
      {"model": "KNN, AP=0.61", "recall": 0.0135, "precision": 0.434},
      {"model": "KNN, AP=0.61", "recall": 0.028, "precision": 0.528},
      {"model": "KNN, AP=0.61", "recall": 0.052, "precision": 0.635},
      {"model": "KNN, AP=0.61", "recall": 0.076, "precision": 0.709},
      {"model": "KNN, AP=0.61", "recall": 0.103, "precision": 0.755},
      {"model": "KNN, AP=0.61", "recall": 0.133, "precision": 0.772},
      {"model": "KNN, AP=0.61", "recall": 0.181, "precision": 0.794},
      {"model": "KNN, AP=0.61", "recall": 0.223, "precision": 0.794},
      {"model": "KNN, AP=0.61", "recall": 0.247, "precision": 0.783},
      {"model": "KNN, AP=0.61", "recall": 0.276, "precision": 0.78},
      {"model": "KNN, AP=0.61", "recall": 0.292, "precision": 0.77},
      {"model": "KNN, AP=0.61", "recall": 0.324, "precision": 0.756},
      {"model": "KNN, AP=0.61", "recall": 0.404, "precision": 0.747},
      {"model": "KNN, AP=0.61", "recall": 0.444, "precision": 0.725},
      {"model": "KNN, AP=0.61", "recall": 0.484, "precision": 0.703},
      {"model": "KNN, AP=0.61", "recall": 0.524, "precision": 0.689},
      {"model": "KNN, AP=0.61", "recall": 0.564, "precision": 0.676},
      {"model": "KNN, AP=0.61", "recall": 0.596, "precision": 0.658},
      {"model": "KNN, AP=0.61", "recall": 0.628, "precision": 0.636},
      {"model": "KNN, AP=0.61", "recall": 0.66, "precision": 0.613},
      {"model": "KNN, AP=0.61", "recall": 0.692, "precision": 0.587},
      {"model": "KNN, AP=0.61", "recall": 0.724, "precision": 0.546},
      {"model": "KNN, AP=0.61", "recall": 0.756, "precision": 0.52},
      {"model": "KNN, AP=0.61", "recall": 0.772, "precision": 0.502},
      {"model": "KNN, AP=0.61", "recall": 0.796, "precision": 0.475},
      {"model": "KNN, AP=0.61", "recall": 0.821, "precision": 0.448},
      {"model": "KNN, AP=0.61", "recall": 0.853, "precision": 0.404},
      {"model": "KNN, AP=0.61", "recall": 0.885, "precision": 0.359},
      {"model": "KNN, AP=0.61", "recall": 0.901, "precision": 0.332},
      {"model": "KNN, AP=0.61", "recall": 0.917, "precision": 0.316},
      {"model": "KNN, AP=0.61", "recall": 0.949, "precision": 0.31},
      {"model": "KNN, AP=0.61", "recall": 0.981, "precision": 0.298},
      {"model": "KNN, AP=0.61", "recall": 1.0, "precision": 0.285}
    ],
    "c": [
      {"model": "MLP, AP=0.96", "recall": 0, "precision": 1.0},
      {"model": "MLP, AP=0.96", "recall": 0.016, "precision": 0.977},
      {"model": "MLP, AP=0.96", "recall": 0.0195, "precision": 0.962},
      {"model": "MLP, AP=0.96", "recall": 0.026, "precision": 0.974},
      {"model": "MLP, AP=0.96", "recall": 0.04, "precision": 0.98},
      {"model": "MLP, AP=0.96", "recall": 0.042, "precision": 0.972},
      {"model": "MLP, AP=0.96", "recall": 0.048, "precision": 0.984},
      {"model": "MLP, AP=0.96", "recall": 0.052, "precision": 0.974},
      {"model": "MLP, AP=0.96", "recall": 0.067, "precision": 0.984},
      {"model": "MLP, AP=0.96", "recall": 0.07, "precision": 0.973},
      {"model": "MLP, AP=0.96", "recall": 0.101, "precision": 0.982},
      {"model": "MLP, AP=0.96", "recall": 0.104, "precision": 0.975},
      {"model": "MLP, AP=0.96", "recall": 0.124, "precision": 0.981},
      {"model": "MLP, AP=0.96", "recall": 0.146, "precision": 0.974},
      {"model": "MLP, AP=0.96", "recall": 0.186, "precision": 0.976},
      {"model": "MLP, AP=0.96", "recall": 0.218, "precision": 0.979},
      {"model": "MLP, AP=0.96", "recall": 0.264, "precision": 0.976},
      {"model": "MLP, AP=0.96", "recall": 0.316, "precision": 0.977},
      {"model": "MLP, AP=0.96", "recall": 0.349, "precision": 0.974},
      {"model": "MLP, AP=0.96", "recall": 0.395, "precision": 0.975},
      {"model": "MLP, AP=0.96", "recall": 0.447, "precision": 0.977},
      {"model": "MLP, AP=0.96", "recall": 0.499, "precision": 0.9755},
      {"model": "MLP, AP=0.96", "recall": 0.564, "precision": 0.973},
      {"model": "MLP, AP=0.96", "recall": 0.642, "precision": 0.973},
      {"model": "MLP, AP=0.96", "recall": 0.708, "precision": 0.973},
      {"model": "MLP, AP=0.96", "recall": 0.74, "precision": 0.9685},
      {"model": "MLP, AP=0.96", "recall": 0.773, "precision": 0.967},
      {"model": "MLP, AP=0.96", "recall": 0.805, "precision": 0.9635},
      {"model": "MLP, AP=0.96", "recall": 0.838, "precision": 0.958},
      {"model": "MLP, AP=0.96", "recall": 0.871, "precision": 0.951},
      {"model": "MLP, AP=0.96", "recall": 0.905, "precision": 0.94},
      {"model": "MLP, AP=0.96", "recall": 0.935, "precision": 0.915},
      {"model": "MLP, AP=0.96", "recall": 0.941, "precision": 0.908},
      {"model": "MLP, AP=0.96", "recall": 0.965, "precision": 0.858},
      {"model": "MLP, AP=0.96", "recall": 0.974, "precision": 0.8375},
      {"model": "MLP, AP=0.96", "recall": 0.983, "precision": 0.781},
      {"model": "MLP, AP=0.96", "recall": 0.988, "precision": 0.74},
      {"model": "MLP, AP=0.96", "recall": 0.991, "precision": 0.681},
      {"model": "MLP, AP=0.96", "recall": 0.996, "precision": 0.6},
      {"model": "MLP, AP=0.96", "recall": 1.0, "precision": 0.511},

      {"model": "DT, AP=0.95", "recall": 0, "precision": 1.0},
      {"model": "DT, AP=0.95", "recall": 0.05, "precision": 0.997},
      {"model": "DT, AP=0.95", "recall": 0.147, "precision": 0.9925},
      {"model": "DT, AP=0.95", "recall": 0.186, "precision": 0.991},
      {"model": "DT, AP=0.95", "recall": 0.251, "precision": 0.989},
      {"model": "DT, AP=0.95", "recall": 0.316, "precision": 0.9865},
      {"model": "DT, AP=0.95", "recall": 0.381, "precision": 0.984},
      {"model": "DT, AP=0.95", "recall": 0.447, "precision": 0.981},
      {"model": "DT, AP=0.95", "recall": 0.512, "precision": 0.979},
      {"model": "DT, AP=0.95", "recall": 0.577, "precision": 0.976},
      {"model": "DT, AP=0.95", "recall": 0.642, "precision": 0.9745},
      {"model": "DT, AP=0.95", "recall": 0.708, "precision": 0.9736},
      {"model": "DT, AP=0.95", "recall": 0.727, "precision": 0.9694},
      {"model": "DT, AP=0.95", "recall": 0.74, "precision": 0.967},
      {"model": "DT, AP=0.95", "recall": 0.747, "precision": 0.959},
      {"model": "DT, AP=0.95", "recall": 0.773, "precision": 0.9565},
      {"model": "DT, AP=0.95", "recall": 0.812, "precision": 0.955},
      {"model": "DT, AP=0.95", "recall": 0.838, "precision": 0.9514},
      {"model": "DT, AP=0.95", "recall": 0.858, "precision": 0.946},
      {"model": "DT, AP=0.95", "recall": 0.871, "precision": 0.94},
      {"model": "DT, AP=0.95", "recall": 0.874, "precision": 0.905},
      {"model": "DT, AP=0.95", "recall": 0.884, "precision": 0.893},
      {"model": "DT, AP=0.95", "recall": 0.896, "precision": 0.89},
      {"model": "DT, AP=0.95", "recall": 0.905, "precision": 0.875},
      {"model": "DT, AP=0.95", "recall": 0.92, "precision": 0.874},
      {"model": "DT, AP=0.95", "recall": 0.935, "precision": 0.864},
      {"model": "DT, AP=0.95", "recall": 0.938, "precision": 0.84},
      {"model": "DT, AP=0.95", "recall": 0.944, "precision": 0.81},
      {"model": "DT, AP=0.95", "recall": 0.953, "precision": 0.782},
      {"model": "DT, AP=0.95", "recall": 0.962, "precision": 0.764},
      {"model": "DT, AP=0.95", "recall": 0.968, "precision": 0.755},
      {"model": "DT, AP=0.95", "recall": 0.971, "precision": 0.74},
      {"model": "DT, AP=0.95", "recall": 0.98, "precision": 0.725},
      {"model": "DT, AP=0.95", "recall": 0.984, "precision": 0.696},
      {"model": "DT, AP=0.95", "recall": 0.99, "precision": 0.637},
      {"model": "DT, AP=0.95", "recall": 0.993, "precision": 0.563},
      {"model": "DT, AP=0.95", "recall": 1.0, "precision": 0.511},

      {"model": "RF, AP=0.97", "recall": 0, "precision": 1.0},
      {"model": "RF, AP=0.97", "recall": 0.081, "precision": 0.999},
      {"model": "RF, AP=0.97", "recall": 0.186, "precision": 0.9976},
      {"model": "RF, AP=0.97", "recall": 0.316, "precision": 0.994},
      {"model": "RF, AP=0.97", "recall": 0.447, "precision": 0.9916},
      {"model": "RF, AP=0.97", "recall": 0.577, "precision": 0.988},
      {"model": "RF, AP=0.97", "recall": 0.675, "precision": 0.9865},
      {"model": "RF, AP=0.97", "recall": 0.708, "precision": 0.985},
      {"model": "RF, AP=0.97", "recall": 0.74, "precision": 0.9806},
      {"model": "RF, AP=0.97", "recall": 0.773, "precision": 0.976},
      {"model": "RF, AP=0.97", "recall": 0.805, "precision": 0.9736},
      {"model": "RF, AP=0.97", "recall": 0.825, "precision": 0.971},
      {"model": "RF, AP=0.97", "recall": 0.851, "precision": 0.966},
      {"model": "RF, AP=0.97", "recall": 0.871, "precision": 0.96},
      {"model": "RF, AP=0.97", "recall": 0.89, "precision": 0.95},
      {"model": "RF, AP=0.97", "recall": 0.91, "precision": 0.94},
      {"model": "RF, AP=0.97", "recall": 0.929, "precision": 0.926},
      {"model": "RF, AP=0.97", "recall": 0.94, "precision": 0.912},
      {"model": "RF, AP=0.97", "recall": 0.953, "precision": 0.887},
      {"model": "RF, AP=0.97", "recall": 0.971, "precision": 0.834},
      {"model": "RF, AP=0.97", "recall": 0.983, "precision": 0.799},
      {"model": "RF, AP=0.97", "recall": 0.991, "precision": 0.755},
      {"model": "RF, AP=0.97", "recall": 0.997, "precision": 0.696},
      {"model": "RF, AP=0.97", "recall": 1.0, "precision": 0.54},
      {"model": "RF, AP=0.97", "recall": 1.0, "precision": 0.511},

      {"model": "XGBoost, AP=0.97", "recall": 0, "precision": 1.0},
      {"model": "XGBoost, AP=0.97", "recall": 0.073, "precision": 0.9976},
      {"model": "XGBoost, AP=0.97", "recall": 0.186, "precision": 0.996},
      {"model": "XGBoost, AP=0.97", "recall": 0.316, "precision": 0.995},
      {"model": "XGBoost, AP=0.97", "recall": 0.447, "precision": 0.9916},
      {"model": "XGBoost, AP=0.97", "recall": 0.577, "precision": 0.989},
      {"model": "XGBoost, AP=0.97", "recall": 0.642, "precision": 0.984},
      {"model": "XGBoost, AP=0.97", "recall": 0.682, "precision": 0.98},
      {"model": "XGBoost, AP=0.97", "recall": 0.708, "precision": 0.978},
      {"model": "XGBoost, AP=0.97", "recall": 0.74, "precision": 0.9745},
      {"model": "XGBoost, AP=0.97", "recall": 0.773, "precision": 0.971},
      {"model": "XGBoost, AP=0.97", "recall": 0.799, "precision": 0.967},
      {"model": "XGBoost, AP=0.97", "recall": 0.818, "precision": 0.9626},
      {"model": "XGBoost, AP=0.97", "recall": 0.838, "precision": 0.958},
      {"model": "XGBoost, AP=0.97", "recall": 0.871, "precision": 0.95},
      {"model": "XGBoost, AP=0.97", "recall": 0.903, "precision": 0.938},
      {"model": "XGBoost, AP=0.97", "recall": 0.929, "precision": 0.926},
      {"model": "XGBoost, AP=0.97", "recall": 0.956, "precision": 0.902},
      {"model": "XGBoost, AP=0.97", "recall": 0.959, "precision": 0.858},
      {"model": "XGBoost, AP=0.97", "recall": 0.977, "precision": 0.828},
      {"model": "XGBoost, AP=0.97", "recall": 0.986, "precision": 0.805},
      {"model": "XGBoost, AP=0.97", "recall": 0.989, "precision": 0.77},
      {"model": "XGBoost, AP=0.97", "recall": 0.997, "precision": 0.725},
      {"model": "XGBoost, AP=0.97", "recall": 1.0, "precision": 0.68},
      {"model": "XGBoost, AP=0.97", "recall": 1.0, "precision": 0.52},

      {"model": "CATBoost, AP=0.96", "recall": 0, "precision": 1.0},
      {"model": "CATBoost, AP=0.96", "recall": 0.081, "precision": 1.0},
      {"model": "CATBoost, AP=0.96", "recall": 0.12, "precision": 0.9976},
      {"model": "CATBoost, AP=0.96", "recall": 0.186, "precision": 0.995},
      {"model": "CATBoost, AP=0.96", "recall": 0.251, "precision": 0.9916},
      {"model": "CATBoost, AP=0.96", "recall": 0.316, "precision": 0.9865},
      {"model": "CATBoost, AP=0.96", "recall": 0.381, "precision": 0.983},
      {"model": "CATBoost, AP=0.96", "recall": 0.447, "precision": 0.985},
      {"model": "CATBoost, AP=0.96", "recall": 0.512, "precision": 0.982},
      {"model": "CATBoost, AP=0.96", "recall": 0.577, "precision": 0.981},
      {"model": "CATBoost, AP=0.96", "recall": 0.642, "precision": 0.981},
      {"model": "CATBoost, AP=0.96", "recall": 0.675, "precision": 0.98},
      {"model": "CATBoost, AP=0.96", "recall": 0.708, "precision": 0.978},
      {"model": "CATBoost, AP=0.96", "recall": 0.74, "precision": 0.9736},
      {"model": "CATBoost, AP=0.96", "recall": 0.773, "precision": 0.966},
      {"model": "CATBoost, AP=0.96", "recall": 0.792, "precision": 0.9565},
      {"model": "CATBoost, AP=0.96", "recall": 0.812, "precision": 0.9514},
      {"model": "CATBoost, AP=0.96", "recall": 0.825, "precision": 0.95},
      {"model": "CATBoost, AP=0.96", "recall": 0.845, "precision": 0.94},
      {"model": "CATBoost, AP=0.96", "recall": 0.86, "precision": 0.9316},
      {"model": "CATBoost, AP=0.96", "recall": 0.884, "precision": 0.917},
      {"model": "CATBoost, AP=0.96", "recall": 0.905, "precision": 0.911},
      {"model": "CATBoost, AP=0.96", "recall": 0.911, "precision": 0.902},
      {"model": "CATBoost, AP=0.96", "recall": 0.914, "precision": 0.873},
      {"model": "CATBoost, AP=0.96", "recall": 0.92, "precision": 0.849},
      {"model": "CATBoost, AP=0.96", "recall": 0.926, "precision": 0.82},
      {"model": "CATBoost, AP=0.96", "recall": 0.938, "precision": 0.808},
      {"model": "CATBoost, AP=0.96", "recall": 0.947, "precision": 0.784},
      {"model": "CATBoost, AP=0.96", "recall": 0.956, "precision": 0.749},
      {"model": "CATBoost, AP=0.96", "recall": 0.965, "precision": 0.723},
      {"model": "CATBoost, AP=0.96", "recall": 0.977, "precision": 0.705},
      {"model": "CATBoost, AP=0.96", "recall": 0.983, "precision": 0.687},
      {"model": "CATBoost, AP=0.96", "recall": 0.987, "precision": 0.681},
      {"model": "CATBoost, AP=0.96", "recall": 0.995, "precision": 0.6},
      {"model": "CATBoost, AP=0.96", "recall": 1.0, "precision": 0.511},

      {"model": "SVC, AP=0.96", "recall": 0, "precision": 1.0},
      {"model": "SVC, AP=0.96", "recall": 0.02, "precision": 1.0},
      {"model": "SVC, AP=0.96", "recall": 0.0225, "precision": 0.985},
      {"model": "SVC, AP=0.96", "recall": 0.048, "precision": 0.991},
      {"model": "SVC, AP=0.96", "recall": 0.073, "precision": 0.9935},
      {"model": "SVC, AP=0.96", "recall": 0.088, "precision": 0.9916},
      {"model": "SVC, AP=0.96", "recall": 0.153, "precision": 0.991},
      {"model": "SVC, AP=0.96", "recall": 0.251, "precision": 0.9916},
      {"model": "SVC, AP=0.96", "recall": 0.316, "precision": 0.989},
      {"model": "SVC, AP=0.96", "recall": 0.381, "precision": 0.9865},
      {"model": "SVC, AP=0.96", "recall": 0.447, "precision": 0.985},
      {"model": "SVC, AP=0.96", "recall": 0.512, "precision": 0.984},
      {"model": "SVC, AP=0.96", "recall": 0.577, "precision": 0.982},
      {"model": "SVC, AP=0.96", "recall": 0.603, "precision": 0.977},
      {"model": "SVC, AP=0.96", "recall": 0.642, "precision": 0.9736},
      {"model": "SVC, AP=0.96", "recall": 0.708, "precision": 0.973},
      {"model": "SVC, AP=0.96", "recall": 0.74, "precision": 0.9694},
      {"model": "SVC, AP=0.96", "recall": 0.773, "precision": 0.964},
      {"model": "SVC, AP=0.96", "recall": 0.805, "precision": 0.959},
      {"model": "SVC, AP=0.96", "recall": 0.831, "precision": 0.953},
      {"model": "SVC, AP=0.96", "recall": 0.851, "precision": 0.943},
      {"model": "SVC, AP=0.96", "recall": 0.871, "precision": 0.9326},
      {"model": "SVC, AP=0.96", "recall": 0.884, "precision": 0.922},
      {"model": "SVC, AP=0.96", "recall": 0.89, "precision": 0.917},
      {"model": "SVC, AP=0.96", "recall": 0.905, "precision": 0.908},
      {"model": "SVC, AP=0.96", "recall": 0.914, "precision": 0.899},
      {"model": "SVC, AP=0.96", "recall": 0.926, "precision": 0.893},
      {"model": "SVC, AP=0.96", "recall": 0.935, "precision": 0.8786},
      {"model": "SVC, AP=0.96", "recall": 0.947, "precision": 0.864},
      {"model": "SVC, AP=0.96", "recall": 0.956, "precision": 0.849},
      {"model": "SVC, AP=0.96", "recall": 0.962, "precision": 0.8285},
      {"model": "SVC, AP=0.96", "recall": 0.971, "precision": 0.799},
      {"model": "SVC, AP=0.96", "recall": 0.98, "precision": 0.781},
      {"model": "SVC, AP=0.96", "recall": 0.986, "precision": 0.74},
      {"model": "SVC, AP=0.96", "recall": 0.992, "precision": 0.652},
      {"model": "SVC, AP=0.96", "recall": 0.995, "precision": 0.522},

      {"model": "KNN, AP=0.93", "recall": 0, "precision": 1.0},
      {"model": "KNN, AP=0.93", "recall": 0.828, "precision": 0.9335},
      {"model": "KNN, AP=0.93", "recall": 0.86, "precision": 0.936},
      {"model": "KNN, AP=0.93", "recall": 0.89, "precision": 0.9316},
      {"model": "KNN, AP=0.93", "recall": 0.914, "precision": 0.921},
      {"model": "KNN, AP=0.93", "recall": 0.935, "precision": 0.914},
      {"model": "KNN, AP=0.93", "recall": 0.947, "precision": 0.905},
      {"model": "KNN, AP=0.93", "recall": 0.959, "precision": 0.89},
      {"model": "KNN, AP=0.93", "recall": 0.974, "precision": 0.8786},
      {"model": "KNN, AP=0.93", "recall": 0.983, "precision": 0.858},
      {"model": "KNN, AP=0.93", "recall": 0.989, "precision": 0.84},
      {"model": "KNN, AP=0.93", "recall": 0.993, "precision": 0.799},
      {"model": "KNN, AP=0.93", "recall": 0.995, "precision": 0.77},
      {"model": "KNN, AP=0.93", "recall": 0.996, "precision": 0.711},
      {"model": "KNN, AP=0.93", "recall": 0.999, "precision": 0.511}
    ]
  },
  "hconcat": [
    {
      "width": 1205, "height": 1026,
      "title": "(a) GAN-Simulated",
      "data": {"name": "a"},
      "mark": {"type": "line", "clip": true},
      "encoding": {
        "x": {"field": "recall", "type": "quantitative", "title": "Recall",
              "scale": {"domain": [-0.05, 1.05], "nice": false, "zero": false},
              "axis": {"values": [0, 0.2, 0.4, 0.6, 0.8, 1.0], "format": ".1f"}},
        "y": {"field": "precision", "type": "quantitative", "title": "Precision",
              "scale": {"domain": [0.2038, 1.0386], "nice": false, "zero": false},
              "axis": {"values": [0.3, 0.4, 0.5, 0.6, 0.7, 0.8, 0.9, 1.0], "format": ".1f"}},
        "color": {"field": "model", "type": "nominal",
                  "scale": {"domain": ["MLP, AP=0.77", "DT, AP=0.73", "RF, AP=0.71", "XGBoost, AP=0.78", "CATBoost, AP=0.74", "SVC, AP=0.75", "KNN, AP=0.74"],
                            "range": ["#1f77b4", "#ff7f0e", "#2ca02c", "#d62728", "#9467bd", "#8c564b", "#e377c2"]},
                  "legend": {"encode": {"legend": {"update": {"strokeWidth": {"value": 3}}}}}},
        "order": {"value": null}
      }
    },
    {
      "width": 1205, "height": 1026,
      "title": "(b) Original + GAN-Simulated",
      "data": {"name": "b"},
      "mark": {"type": "line", "clip": true},
      "encoding": {
        "x": {"field": "recall", "type": "quantitative", "title": "Recall",
              "scale": {"domain": [-0.05, 1.05], "nice": false, "zero": false},
              "axis": {"values": [0, 0.2, 0.4, 0.6, 0.8, 1.0], "format": ".1f"}},
        "y": {"field": "precision", "type": "quantitative", "title": "Precision",
              "scale": {"domain": [-0.05, 1.05], "nice": false, "zero": false},
              "axis": {"values": [0, 0.2, 0.4, 0.6, 0.8, 1.0], "format": ".1f"}},
        "color": {"field": "model", "type": "nominal",
                  "scale": {"domain": ["MLP, AP=0.65", "DT, AP=0.69", "RF, AP=0.70", "XGBoost, AP=0.67", "CATBoost, AP=0.69", "SVC, AP=0.61", "KNN, AP=0.61"],
                            "range": ["#1f77b4", "#ff7f0e", "#2ca02c", "#d62728", "#9467bd", "#8c564b", "#e377c2"]},
                  "legend": {"encode": {"legend": {"update": {"strokeWidth": {"value": 3}}}}}},
        "order": {"value": null}
      }
    },
    {
      "width": 1205, "height": 1026,
      "title": "(c) SMOTENN-GAN",
      "data": {"name": "c"},
      "mark": {"type": "line", "clip": true},
      "encoding": {
        "x": {"field": "recall", "type": "quantitative", "title": "Recall",
              "scale": {"domain": [-0.05, 1.05], "nice": false, "zero": false},
              "axis": {"values": [0, 0.2, 0.4, 0.6, 0.8, 1.0], "format": ".1f"}},
        "y": {"field": "precision", "type": "quantitative", "title": "Precision",
              "scale": {"domain": [0.4868, 1.0249], "nice": false, "zero": false},
              "axis": {"values": [0.5, 0.6, 0.7, 0.8, 0.9, 1.0], "format": ".1f"}},
        "color": {"field": "model", "type": "nominal",
                  "scale": {"domain": ["MLP, AP=0.96", "DT, AP=0.95", "RF, AP=0.97", "XGBoost, AP=0.97", "CATBoost, AP=0.96", "SVC, AP=0.96", "KNN, AP=0.93"],
                            "range": ["#1f77b4", "#ff7f0e", "#2ca02c", "#d62728", "#9467bd", "#8c564b", "#e377c2"]},
                  "legend": {"encode": {"legend": {"update": {"strokeWidth": {"value": 3}}}}}},
        "order": {"value": null}
      }
    }
  ],
  "resolve": {"scale": {"color": "independent"}}
}
